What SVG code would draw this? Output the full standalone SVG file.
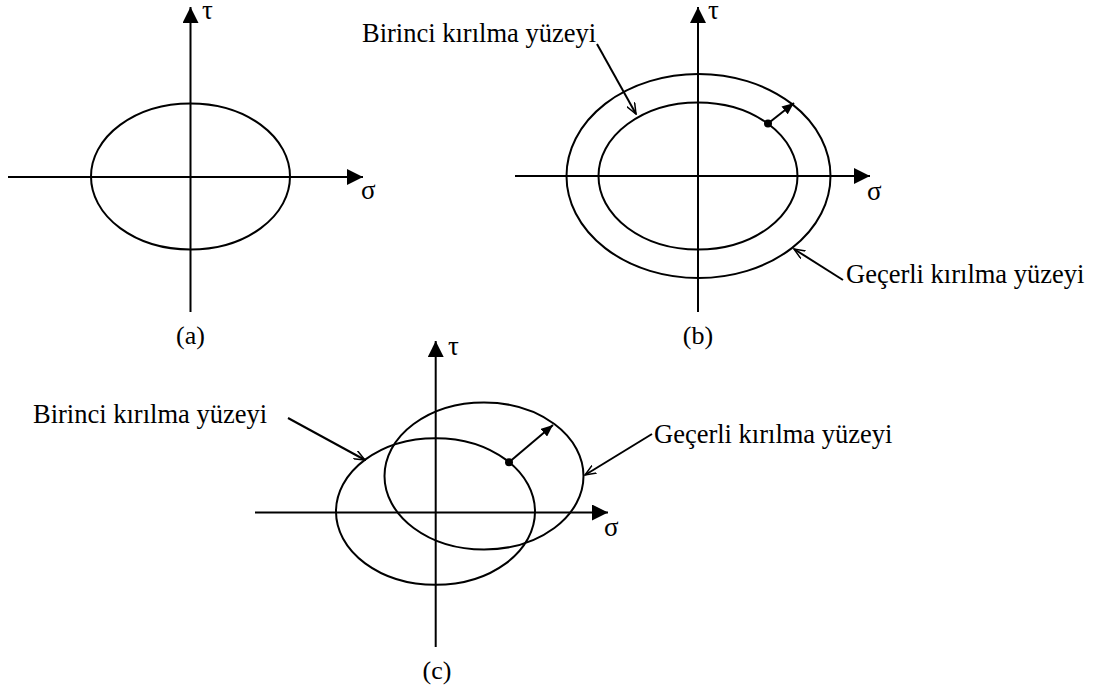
<svg xmlns="http://www.w3.org/2000/svg" width="1093" height="690" viewBox="0 0 1093 690">
<style>
.ln{stroke:#000;stroke-width:2;fill:none}
.ax{stroke:#000;stroke-width:2;fill:none;marker-end:url(#axisHead)}
.ld{stroke:#000;stroke-width:2;fill:none;marker-end:url(#openHead)}
.dv{stroke:#000;stroke-width:2;fill:none;marker-end:url(#smallHead)}
.t{font-family:"Liberation Serif","Times New Roman",serif;font-size:26.5px;fill:#000}
.g{font-family:"Liberation Serif","Times New Roman",serif;font-size:27px;fill:#000}
.lb{font-family:"Liberation Serif","Times New Roman",serif;font-size:26px;fill:#000;text-anchor:middle}
</style>
<defs>
<marker id="axisHead" markerUnits="userSpaceOnUse" markerWidth="18" markerHeight="16" refX="16" refY="8" orient="auto"><path d="M0,0 L16,8 L0,16 z" fill="#000"/></marker>
<marker id="smallHead" markerUnits="userSpaceOnUse" markerWidth="13" markerHeight="10" refX="12" refY="5" orient="auto"><path d="M0,0 L12,5 L0,10 z" fill="#000"/></marker>
<marker id="openHead" markerUnits="userSpaceOnUse" markerWidth="12" markerHeight="10" refX="11" refY="5" orient="auto"><path d="M0,0.5 L11,5 L0,9.5" fill="none" stroke="#000" stroke-width="1.5"/></marker>
</defs>

<g id="diagram-a">
<line class="ax" x1="190.5" y1="312" x2="190.5" y2="7"/>
<line class="ax" x1="8" y1="177" x2="363" y2="177"/>
<ellipse class="ln" cx="190.5" cy="176.5" rx="99.5" ry="73"/>
<text class="g" x="202" y="19">τ</text>
<text class="g" x="361" y="199">σ</text>
<text class="lb" x="190.5" y="344">(a)</text>
</g>

<g id="diagram-b">
<line class="ax" x1="698" y1="312" x2="698" y2="7"/>
<line class="ax" x1="515" y1="176" x2="870" y2="176"/>
<ellipse class="ln" cx="698" cy="176" rx="99.5" ry="73.5"/>
<ellipse class="ln" cx="698.5" cy="176" rx="132" ry="102"/>
<circle cx="768" cy="123.5" r="4" fill="#000"/>
<text class="g" x="708" y="19">τ</text>
<text class="g" x="867" y="200">σ</text>
<text class="lb" x="698" y="344">(b)</text>
</g>

<g id="diagram-c">
<line class="ax" x1="435.7" y1="647" x2="435.7" y2="341"/>
<line class="ax" x1="255" y1="512.5" x2="608" y2="512.5"/>
<ellipse class="ln" cx="435.5" cy="511.5" rx="99.5" ry="73.3"/>
<ellipse class="ln" cx="484" cy="476" rx="99.5" ry="73.5"/>
<circle cx="509" cy="462.3" r="4" fill="#000"/>
<text class="g" x="448" y="355">τ</text>
<text class="g" x="604" y="536">σ</text>
<text class="lb" x="437" y="679">(c)</text>
</g>

<g id="label-b-birinci"><text class="t" x="362" y="42">Birinci kırılma yüzeyi</text></g>
<g id="label-b-gecerli"><text class="t" x="846" y="283">Geçerli kırılma yüzeyi</text></g>
<g id="label-c-birinci"><text class="t" x="33" y="423">Birinci kırılma yüzeyi</text></g>
<g id="label-c-gecerli"><text class="t" x="654" y="443">Geçerli kırılma yüzeyi</text></g>

<g id="connectors">
<line class="ld" x1="597" y1="44" x2="636" y2="114"/>
<line class="ld" x1="843" y1="280" x2="794" y2="249"/>
<line class="dv" x1="768" y1="123.5" x2="794" y2="103"/>
<line class="ld" x1="288" y1="418" x2="365" y2="460"/>
<line class="ld" x1="652" y1="434" x2="585" y2="475"/>
<line class="dv" x1="509" y1="462.3" x2="553" y2="425"/>
</g>
</svg>
